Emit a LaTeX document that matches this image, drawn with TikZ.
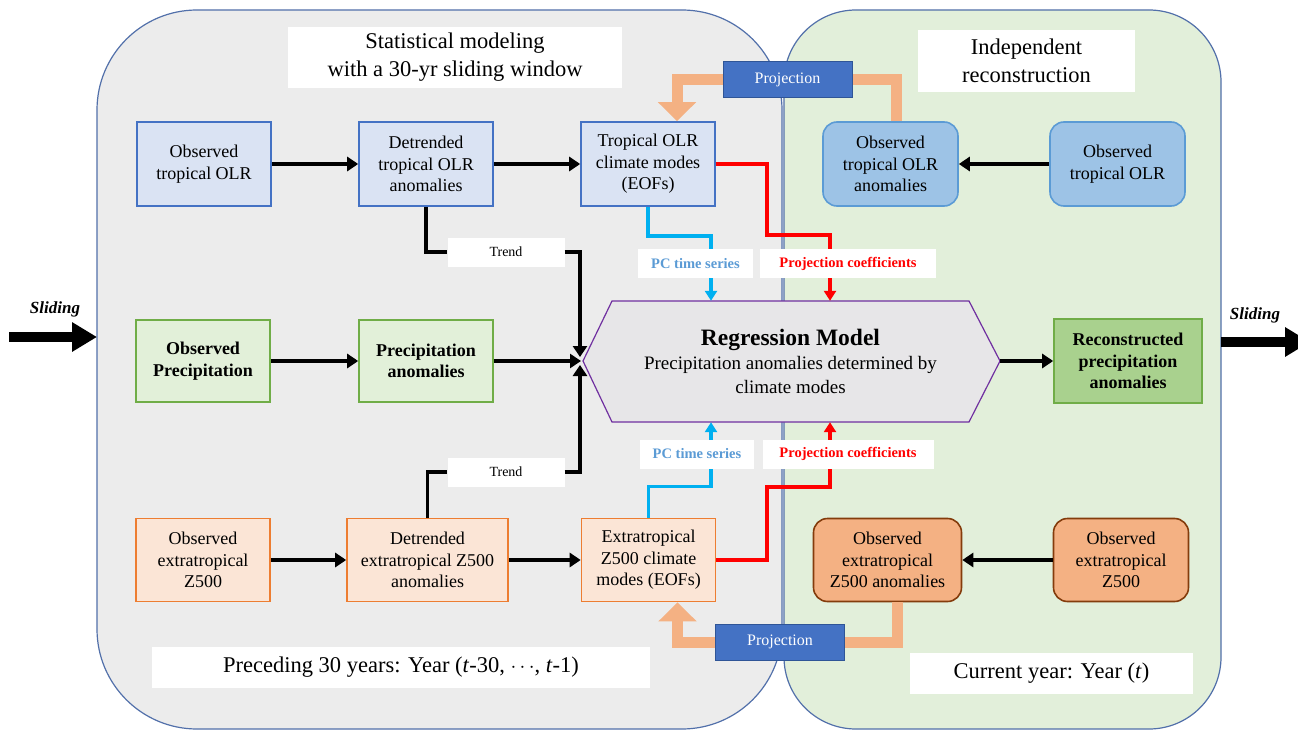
\documentclass[tikz,border=0pt]{standalone}
\usepackage{fontspec}
\setmainfont{Liberation Serif}
\usetikzlibrary{arrows.meta}
\definecolor{panelline}{RGB}{82,112,170}
\definecolor{panelgray}{RGB}{236,236,236}
\definecolor{panelgreen}{RGB}{226,239,218}
\definecolor{olrline}{RGB}{68,114,196}
\definecolor{olrfill}{RGB}{218,227,243}
\definecolor{olrnowline}{RGB}{91,155,213}
\definecolor{olrnowfill}{RGB}{157,195,230}
\definecolor{prline}{RGB}{112,173,71}
\definecolor{prfill}{RGB}{226,240,217}
\definecolor{prnowfill}{RGB}{169,209,142}
\definecolor{zline}{RGB}{237,125,49}
\definecolor{zfill}{RGB}{251,229,214}
\definecolor{znowline}{RGB}{132,60,12}
\definecolor{znowfill}{RGB}{244,177,131}
\definecolor{projline}{RGB}{47,85,151}
\definecolor{projfill}{RGB}{68,114,196}
\definecolor{band}{RGB}{244,177,131}
\definecolor{pcline}{RGB}{0,176,240}
\definecolor{pctext}{RGB}{91,155,213}
\definecolor{coefline}{RGB}{255,0,0}
\definecolor{regline}{RGB}{112,48,160}
\definecolor{regfill}{RGB}{231,230,232}
\begin{document}
\begin{tikzpicture}[x=1pt,y=-1pt,
    box/.style={draw,line width=1.6pt,minimum width=134pt,minimum height=84pt,align=center,inner sep=1pt,font=\fontsize{18}{21.5}\selectfont},
    olrbox/.style={box,draw=olrline,fill=olrfill},
    olrnow/.style={box,rounded corners=14pt,draw=olrnowline,fill=olrnowfill,minimum width=135pt},
    prbox/.style={box,draw=prline,fill=prfill,minimum height=82pt,font=\fontsize{18}{21.5}\selectfont\bfseries},
    zbox/.style={box,draw=zline,fill=zfill,minimum height=83pt},
    znow/.style={box,rounded corners=14pt,draw=znowline,fill=znowfill,minimum width=135pt,minimum height=83pt},
    titlebox/.style={fill=white,align=center,inner sep=0pt,font=\fontsize{22.5}{28}\selectfont},
    tag/.style={fill=white,minimum height=29pt,inner sep=0pt,font=\fontsize{14}{16}\selectfont},
    pctag/.style={tag,text=pctext,font=\fontsize{14.5}{16}\selectfont\bfseries},
    coeftag/.style={tag,text=coefline,font=\fontsize{14.5}{16}\selectfont\bfseries},
    projbox/.style={draw=projline,fill=projfill,text=white,line width=1pt,minimum width=129pt,minimum height=36pt,inner sep=0pt,font=\fontsize{16}{18}\selectfont},
    arr/.style={line width=3.6pt,-{Triangle[length=11pt,width=14pt]}},
    pcarr/.style={draw=pcline,line width=3.4pt,-{Triangle[length=10pt,width=12pt]}},
    coefarr/.style={draw=coefline,line width=3.4pt,-{Triangle[length=10pt,width=12pt]}},
    projband/.style={draw=band,line width=11pt},
    projarr/.style={projband,-{Triangle[length=19pt,width=37pt]}},
    slidearr/.style={line width=10pt,-{Triangle[length=25pt,width=28pt]}},
    slidetext/.style={font=\fontsize{17}{20}\selectfont\bfseries\itshape}
  ]
  \fill[white] (0,0) rectangle (1298,730);
  \clip (0,0) rectangle (1298,730);

  % the two windows
  \draw[panelline,line width=1.2pt,fill=panelgray,rounded corners=100pt] (97,10) rectangle (782,729);
  \draw[panelline,line width=1.2pt,fill=panelgreen,rounded corners=72pt] (784,10) rectangle (1221,729);

  \node[titlebox,minimum width=334pt,minimum height=61pt] (title_l) at (455,57.5) {Statistical modeling\\with a 30-yr sliding window};
  \node[titlebox,minimum width=217pt,minimum height=62pt] (title_r) at (1026.5,61) {Independent\\reconstruction};
  \node[titlebox,minimum width=498pt,minimum height=41pt] (foot_l) at (401,667.5) {Preceding 30 years: Year (\textit{t}-30, $\cdots$, \textit{t}-1)};
  \node[titlebox,minimum width=283pt,minimum height=41pt] (foot_r) at (1051.5,673.5) {Current year: Year (\textit{t})};

  % OLR row
  \node[olrbox] (obs_olr) at (204,164) {Observed\\tropical OLR};
  \node[olrbox] (det_olr) at (426,164) {Detrended\\tropical OLR\\anomalies};
  \node[olrbox] (eof_olr) at (648,164) {Tropical OLR\\climate modes\\(EOFs)};
  \node[olrnow] (anom_olr_t) at (890.5,164) {Observed\\tropical OLR\\anomalies};
  \node[olrnow] (obs_olr_t) at (1117.5,164) {Observed\\tropical OLR};

  % precipitation row
  \node[prbox] (obs_pr) at (203,361) {Observed\\Precipitation};
  \node[prbox] (anom_pr) at (426,361) {Precipitation\\anomalies};
  \node[prbox,fill=prnowfill,minimum width=148pt,minimum height=84pt] (rec_pr) at (1128,361) {Reconstructed\\precipitation\\anomalies};

  % Z500 row
  \node[zbox] (obs_z) at (203,560) {Observed\\extratropical\\Z500};
  \node[zbox,minimum width=161pt] (det_z) at (427.5,560) {Detrended\\extratropical Z500\\anomalies};
  \node[zbox] (eof_z) at (648.5,560) {Extratropical\\Z500 climate\\modes (EOFs)};
  \node[znow,minimum width=148pt] (anom_z_t) at (887.5,560) {Observed\\extratropical\\Z500 anomalies};
  \node[znow] (obs_z_t) at (1121,560) {Observed\\extratropical\\Z500};

  % regression model
  \coordinate (reg_w) at (583,361);
  \coordinate (reg_e) at (1000,361);
  \draw[regline,line width=1.2pt,fill=regfill] (reg_w) -- (612,301) -- (969,301) -- (reg_e) -- (969,422) -- (612,422) -- cycle;
  \node[align=center,minimum width=357pt,minimum height=121pt,inner sep=0pt,font=\fontsize{19}{24}\selectfont] (reg) at (790.5,361.5) {{\fontsize{23.5}{26}\selectfont\bfseries Regression Model}\\Precipitation anomalies determined by\\climate modes};

  \draw[arr] (obs_olr.east) -- (det_olr.west);
  \draw[arr] (det_olr.east) -- (eof_olr.west);
  \draw[arr] (obs_olr_t.west) -- (anom_olr_t.east);
  \draw[arr] (obs_pr.east) -- (anom_pr.west);
  \draw[arr] (anom_pr.east) -- ([xshift=-2pt]reg_w);
  \draw[arr] (reg_e) -- (rec_pr.west);
  \draw[arr] (obs_z.east) -- (det_z.west);
  \draw[arr] (det_z.east) -- (eof_z.west);
  \draw[arr] (obs_z_t.west) -- (anom_z_t.east);

  \draw[pcarr] (eof_olr.south) -- ++(0,29) -| ([xshift=-79.5pt]reg.north);
  \draw[coefarr] (eof_olr.east) -| (767,235) -| ([xshift=39.5pt]reg.north);
  \draw[pcarr] (eof_z.north) -- ++(0,-31) -| ([xshift=-79.5pt]reg.south);
  \draw[coefarr] (eof_z.east) -| (767,487) -| ([xshift=39.5pt]reg.south);

  \node[tag,minimum width=117pt] (trend_1) at (506,252) {Trend};
  \node[tag,minimum width=117pt] (trend_2) at (506,472) {Trend};
  \node[pctag,minimum width=115pt] (pc_1) at (695.5,263.5) {PC time series};
  \node[coeftag,minimum width=176pt] (coef_1) at (848,263.5) {Projection coefficients};
  \node[pctag,minimum width=114pt] (pc_2) at (697,454) {PC time series};
  \node[coeftag,minimum width=171pt] (coef_2) at (848,454) {Projection coefficients};

  \draw[line width=3.6pt] (det_olr.south) |- (trend_1.west);
  \draw[arr] (trend_1.east) -| ([xshift=-3pt,yshift=4pt]reg_w);
  \draw[line width=3.6pt] (det_z.north) |- (trend_2.west);
  \draw[arr] (trend_2.east) -| ([xshift=-3pt,yshift=-4pt]reg_w);

  % projection onto the modes
  \node[projbox] (proj_1) at (787.5,80) {Projection};
  \node[projbox] (proj_2) at (780,642) {Projection};
  \draw[projband] ([xshift=6pt]anom_olr_t.north) |- (proj_1.east);
  \draw[projarr] (proj_1.west) -| ([xshift=29pt]eof_olr.north);
  \draw[projband] ([xshift=10pt]anom_z_t.south) |- (proj_2.east);
  \draw[projarr] (proj_2.west) -| ([xshift=29pt]eof_z.south);

  % sliding
  \coordinate (slide_l_a) at (9,337);
  \coordinate (slide_l_b) at (97,337);
  \coordinate (slide_r_a) at (1221,342);
  \coordinate (slide_r_b) at (1310,342);
  \draw[slidearr] (slide_l_a) -- (slide_l_b);
  \draw[slidearr] (slide_r_a) -- (slide_r_b);
  \node[slidetext] (slide_l) at (55,309) {Sliding};
  \node[slidetext] (slide_r) at (1255,315) {Sliding};
\end{tikzpicture}
\end{document}
